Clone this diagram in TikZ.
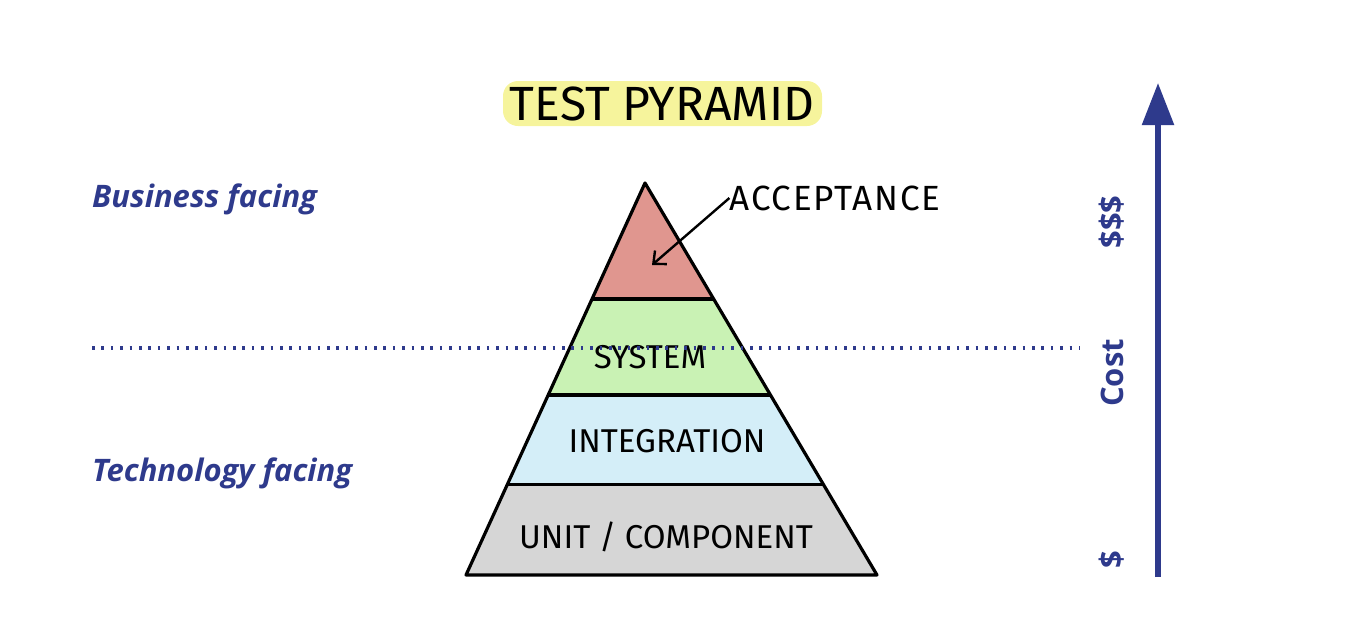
\documentclass[tikz,border=0pt]{standalone}
\usepackage{fontspec}
\setmainfont{Open Sans}
\newfontfamily\handfont{Fira Sans}
\usetikzlibrary{arrows.meta,positioning,calc}
\definecolor{Navy}{HTML}{2E3A8C}
\definecolor{Marker}{HTML}{F6F49C}
\definecolor{AccLayer}{HTML}{E0968F}
\definecolor{SysLayer}{HTML}{C9F2B4}
\definecolor{IntLayer}{HTML}{D4EEF8}
\definecolor{UnitLayer}{HTML}{D6D6D6}
\begin{document}
\begin{tikzpicture}[x=1pt,y=-1pt,>=stealth,
  layerline/.style={black,line width=3.2pt,line join=round},
  hand/.style={font=\handfont\fontsize{33}{33}\selectfont,text=black,inner sep=0pt},
  facing/.style={font=\bfseries\itshape\fontsize{31}{31}\selectfont,text=Navy,anchor=west,inner sep=0pt},
  costlabel/.style={font=\bfseries\fontsize{31}{31}\selectfont,text=Navy,rotate=90,inner sep=0pt}]
\useasboundingbox (0,0) rectangle (1372,630);
% pyramid corners
\coordinate (apex) at (645,183);
\coordinate (bl) at (466,575);
\coordinate (br) at (877,575);
\coordinate (l1) at ($(apex)!0.296!(bl)$);
\coordinate (r1) at ($(apex)!0.296!(br)$);
\coordinate (l2) at ($(apex)!0.541!(bl)$);
\coordinate (r2) at ($(apex)!0.541!(br)$);
\coordinate (l3) at ($(apex)!0.770!(bl)$);
\coordinate (r3) at ($(apex)!0.770!(br)$);
% layers
\fill[AccLayer] (apex) -- (r1) -- (l1) -- cycle;
\fill[SysLayer] (l1) -- (r1) -- (r2) -- (l2) -- cycle;
\fill[IntLayer] (l2) -- (r2) -- (r3) -- (l3) -- cycle;
\fill[UnitLayer] (l3) -- (r3) -- (br) -- (bl) -- cycle;
\draw[layerline] (apex) -- (br) -- (bl) -- cycle;
\draw[layerline] (l1) -- (r1);
\draw[layerline] (l2) -- (r2);
\draw[layerline] (l3) -- (r3);
% title
\fill[Marker,rounded corners=15pt] (503,81) rectangle (822,126);
\node[hand,font=\handfont\fontsize{48}{48}\selectfont] (title) at (662,104) {TEST PYRAMID};
% layer labels
\node[hand,font=\handfont\fontsize{35}{35}\addfontfeatures{LetterSpace=5}\selectfont] (acceptance) at (835,198) {ACCEPTANCE};
\coordinate (acctip) at (652,265);
\draw[black,line width=2.4pt,-{Straight Barb[length=10pt,width=18pt]}] (acceptance.west) -- (acctip);
\node[hand] (system) at (650,357) {SYSTEM};
\node[hand] (integration) at (667,441) {INTEGRATION};
\node[hand] (unit) at (666,537) {UNIT / COMPONENT};
% business / technology split
\coordinate (splitleft) at (92,348);
\coordinate (splitright) at (1080,348);
\draw[Navy,line width=3.2pt,dash pattern=on 2.6pt off 6.8pt] (splitleft) -- (splitright);
\node[facing] (business) at (92,199) {Business facing};
\node[facing] (technology) at (92,473) {Technology facing};
% cost axis
\coordinate (costlow) at (1158,577);
\coordinate (costhigh) at (1158,83);
\draw[Navy,line width=5.5pt,-{Triangle[length=42pt,width=31pt]}] (costlow) -- (costhigh);
\node[costlabel] (high) at (1112,222) {\$\$\$};
\node[costlabel] (cost) at (1112,373) {Cost};
\node[costlabel] (low) at (1112,560) {\$};
\end{tikzpicture}
\end{document}
